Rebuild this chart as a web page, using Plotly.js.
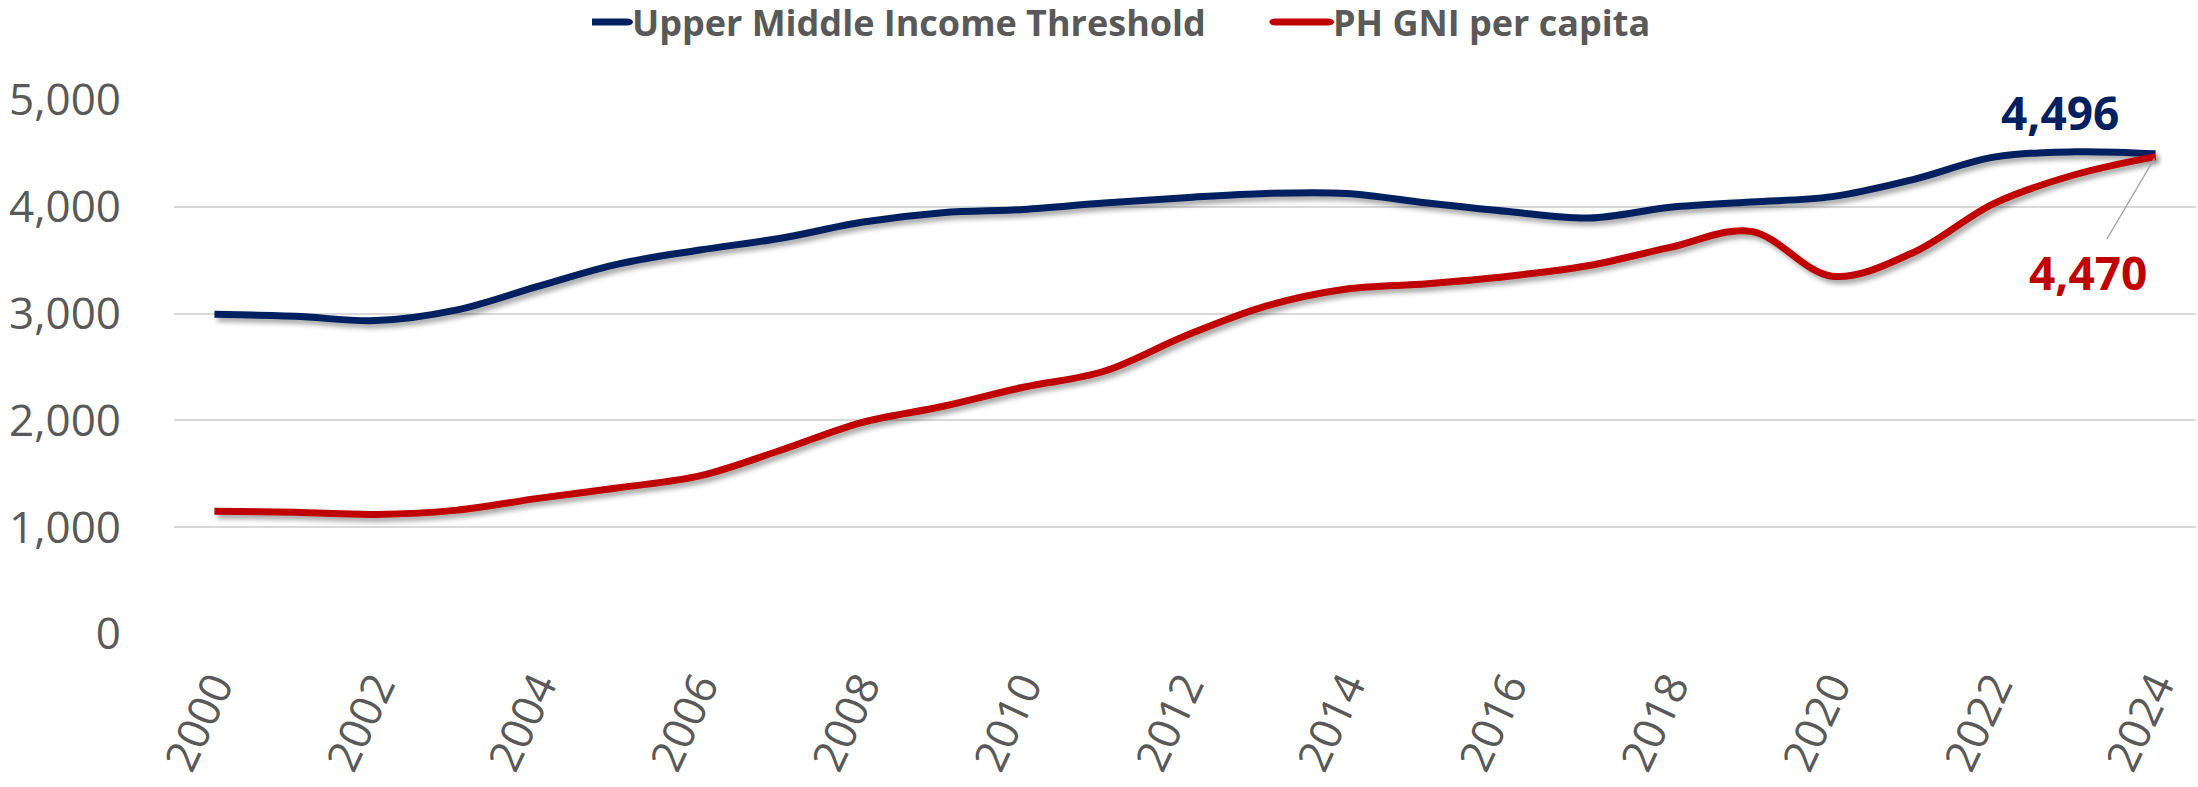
<!DOCTYPE html>
<html>
<head>
<meta charset="utf-8">
<script src="https://cdn.plot.ly/plotly-3.0.1.min.js"></script>
<style>
  html, body { margin: 0; padding: 0; background: #ffffff; }
  #chart { width: 2198px; height: 787px; }
  .scatterlayer .trace path.js-line { filter: drop-shadow(3px 4px 2.5px rgba(0,0,0,0.35)); }
  .legend .legendlines path {
    stroke-linecap: round;
    transform-box: fill-box;
    transform-origin: right center;
    transform: scaleX(1.75);
  }
</style>
</head>
<body>
<div id="chart"></div>
<script>
// Years (category axis)
const years = [2000, 2001, 2002, 2003, 2004, 2005, 2006, 2007, 2008, 2009, 2010, 2011, 2012,
               2013, 2014, 2015, 2016, 2017, 2018, 2019, 2020, 2021, 2022, 2023, 2024];

// Upper Middle Income Threshold (US$)
const umiThreshold = [2995, 2975, 2935, 3035, 3255, 3465, 3595, 3705, 3855, 3945, 3975, 4035, 4085,
                      4125, 4125, 4035, 3955, 3895, 3995, 4045, 4095, 4255, 4465, 4515, 4496];

// PH GNI per capita (US$)
const phGni = [1150, 1140, 1120, 1160, 1270, 1370, 1480, 1720, 1980, 2130, 2310, 2460, 2790,
               3070, 3230, 3280, 3350, 3450, 3620, 3770, 3350, 3570, 4030, 4300, 4470];

// Axis ticks
const xTickVals = [2000, 2002, 2004, 2006, 2008, 2010, 2012, 2014, 2016, 2018, 2020, 2022, 2024];
const xTickText = xTickVals.map(String);
const yTickVals = [0, 1000, 2000, 3000, 4000, 5000];
const yTickText = ["0", "1,000", "2,000", "3,000", "4,000", "5,000"];

const seriesNames = ["Upper Middle Income Threshold", "PH GNI per capita"];
const navy = "#002060";
const red = "#C00000";

const lastIdx = years.length - 1;

const traces = [
  {
    x: years, y: umiThreshold, name: seriesNames[0], type: "scatter", mode: "lines",
    line: { color: navy, width: 7, shape: "spline", smoothing: 1 },
    hoverinfo: "skip"
  },
  {
    x: years, y: phGni, name: seriesNames[1], type: "scatter", mode: "lines",
    line: { color: red, width: 7, shape: "spline", smoothing: 1 },
    hoverinfo: "skip"
  }
];

const fmt = v => v.toLocaleString("en-US");

const layout = {
  width: 2198, height: 787,
  margin: { l: 174, r: 2, t: 100, b: 153 },
  paper_bgcolor: "#ffffff",
  plot_bgcolor: "#ffffff",
  font: { family: "Open Sans, Noto Sans, sans-serif", color: "#595959" },
  showlegend: true,
  legend: {
    orientation: "h",
    xref: "container", yref: "container",
    x: 0.2693, xanchor: "left",
    y: 0.972, yanchor: "middle",
    font: { family: "Open Sans, Noto Sans, sans-serif", size: 36, color: "#595959", weight: 700 },
    entrywidth: 656, entrywidthmode: "pixels",
    tracegroupgap: 0,
    bgcolor: "rgba(0,0,0,0)"
  },
  xaxis: {
    range: [1999.5, 2024.5],
    tickmode: "array", tickvals: xTickVals, ticktext: xTickText,
    tickangle: -65,
    tickfont: { family: "Open Sans, Noto Sans, sans-serif", size: 44, color: "#595959" },
    ticklabelstandoff: 17,
    showgrid: false, zeroline: false, showline: false, ticks: ""
  },
  yaxis: {
    range: [0, 5000],
    tickmode: "array", tickvals: yTickVals, ticktext: yTickText,
    tickfont: { family: "Open Sans, Noto Sans, sans-serif", size: 44, color: "#595959" },
    ticklabelstandoff: 52,
    showgrid: true, gridcolor: "#d9d9d9", gridwidth: 2,
    zeroline: false, showline: false, ticks: ""
  },
  annotations: [
    {
      x: years[lastIdx], y: umiThreshold[lastIdx], xref: "x", yref: "y",
      text: fmt(umiThreshold[lastIdx]), showarrow: false,
      xshift: -96, yshift: 42,
      font: { family: "Open Sans, Noto Sans, sans-serif", size: 46, color: navy, weight: 700 }
    },
    {
      x: years[lastIdx], y: phGni[lastIdx], xref: "x", yref: "y",
      text: fmt(phGni[lastIdx]), showarrow: true,
      ax: -68, ay: 115, arrowhead: 0, arrowwidth: 1.3, arrowcolor: "#a6a6a6", standoff: 2,
      font: { family: "Open Sans, Noto Sans, sans-serif", size: 46, color: red, weight: 700 }
    }
  ]
};

Plotly.newPlot("chart", traces, layout, { staticPlot: true, displayModeBar: false });
</script>
</body>
</html>
